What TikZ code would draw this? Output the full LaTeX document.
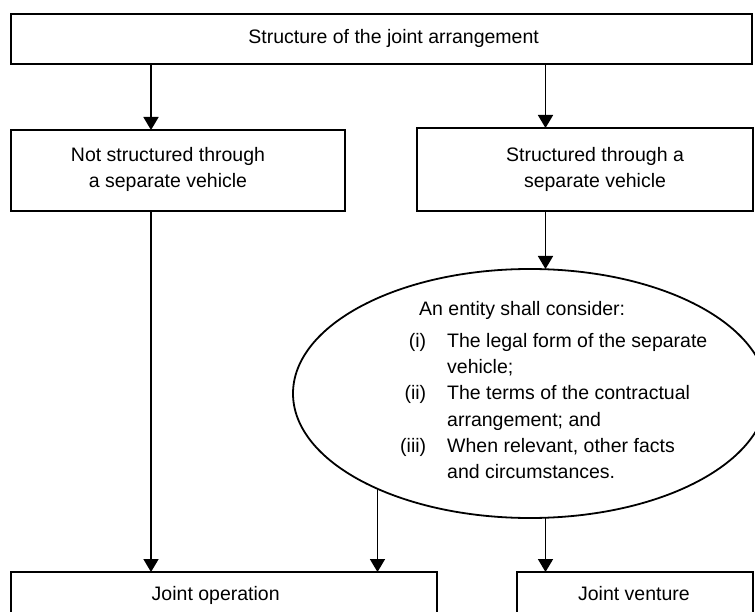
\documentclass[tikz,border=0pt]{standalone}
\usepackage{fontspec}
\setmainfont{Liberation Sans}
\usepackage{tikz}
\usetikzlibrary{arrows.meta, positioning, shapes.geometric}
\definecolor{mainBlack}{gray}{0.0}

\begin{document}
\begin{tikzpicture}[x=1pt, y=-1pt,
        box/.style={draw=mainBlack, line width=1.8pt, inner sep=0pt, outer sep=0pt},
        txt/.style={font=\fontsize{19.5}{26.3}\selectfont, inner sep=0pt, anchor=base},
        arr/.style={-{Triangle[width=15pt, length=13pt]}, line width=1.8pt, mainBlack}]
        \useasboundingbox (0,0) rectangle (755,612);
        \clip (0,0) rectangle (755,612);

        % boxes
        \node[box, minimum width=741pt, minimum height=50pt] (structure) at (381.5,39) {};
        \node[box, minimum width=334pt, minimum height=81pt] (notsep) at (178,170.5) {};
        \node[box, minimum width=336pt, minimum height=83pt] (sep) at (585,169.5) {};
        \node[box, ellipse, minimum width=474pt, minimum height=249pt] (consider) at (530,393.5) {};
        \node[box, minimum width=426pt, minimum height=50pt] (jop) at (224,597) {};
        \node[box, minimum width=236pt, minimum height=50pt] (jv) at (635,597) {};

        % texts
        \node[txt] (structuretxt) at (393.6,44) {Structure of the joint arrangement};
        \node[txt, align=center] (notseptxt) at (168,187.5) {Not structured through\\a separate vehicle};
        \node[txt, align=center] (septxt) at (595,187.5) {Structured through a\\separate vehicle};
        \node[txt, anchor=base west] (considertxt) at (400,316) {%
            \begin{tabular}[t]{@{}r@{\hspace{21pt}}l@{}}
            \multicolumn{2}{@{\hspace{19pt}}l@{}}{An entity shall consider:}\\[5pt]
            (i) & The legal form of the separate\\
                & vehicle;\\
            (ii) & The terms of the contractual\\
                 & arrangement; and\\
            (iii) & When relevant, other facts\\
                  & and circumstances.
            \end{tabular}};
        \node[txt] (joptxt) at (215.7,600) {Joint operation};
        \node[txt] (jvtxt) at (633.9,600) {Joint venture};

        % connectors
        \coordinate (xa) at (151,0);
        \coordinate (xb) at (545.5,0);
        \draw[arr] (structure.south -| xa) -- (notsep.north -| xa);
        \draw[arr] (structure.south -| xb) -- (sep.north -| xb);
        \draw[arr] (sep.south -| xb) -- (consider.north -| xb);
        \draw[arr] (notsep.south -| xa) -- (jop.north -| xa);
        \draw[arr] (consider.212.75) -- (consider.212.75 |- jop.north);
        \draw[arr] (consider.south -| xb) -- (jv.north -| xb);
    \end{tikzpicture}
\end{document}
